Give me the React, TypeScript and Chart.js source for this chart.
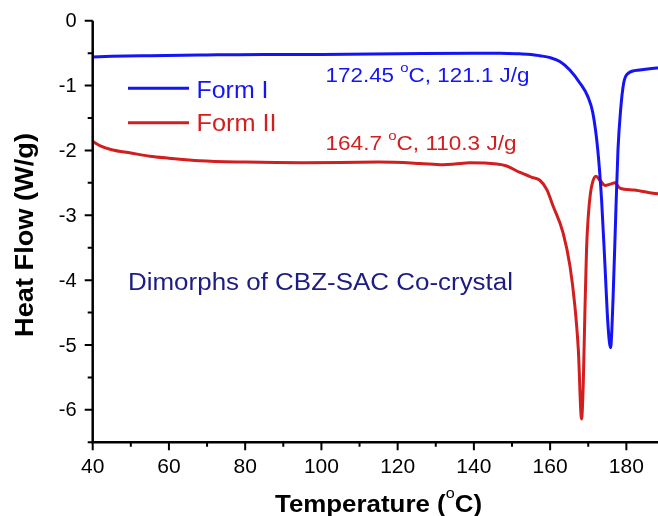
import { useEffect, useRef } from "react";
import { Chart, registerables } from "chart.js";

Chart.register(...registerables);

const FONT = '"Liberation Sans", Arial, Helvetica, sans-serif';

// Form I (blue)
const formITemp = [40, 45, 55, 68, 85, 100, 120, 140, 147, 152, 155, 157.3, 160, 162.55, 165.17, 167.8, 169.9, 171.2, 172.5, 173.5, 174.4, 175.2, 175.85, 176.5, 177.2, 177.8, 178.5, 179.3, 180.5, 183.5, 187.9, 190];
const formIHeat = [-0.56, -0.55, -0.54, -0.53, -0.52, -0.52, -0.51, -0.5, -0.5, -0.51, -0.52, -0.54, -0.57, -0.63, -0.76, -0.96, -1.17, -1.42, -1.99, -2.76, -3.79, -4.71, -5.04, -4.3, -3.02, -1.99, -1.37, -0.96, -0.81, -0.76, -0.73, -0.72];

// Form II (red)
const formIITemp = [40, 42, 45, 50, 55, 60, 68, 80, 95, 115, 125.8, 131.9, 135, 139, 146, 148.6, 152.1, 155.5, 157.3, 159.1, 160.8, 163.4, 165.2, 166.5, 167.4, 168.25, 168.7, 169.1, 169.55, 170.0, 170.6, 171.2, 172.0, 173.2, 174.4, 175.8, 177.0, 178.3, 182, 187.0, 190];
const formIIHeat = [-1.86, -1.93, -1.99, -2.04, -2.09, -2.12, -2.16, -2.18, -2.19, -2.18, -2.2, -2.22, -2.21, -2.19, -2.21, -2.24, -2.34, -2.42, -2.46, -2.6, -2.86, -3.27, -3.78, -4.4, -5.07, -6.14, -5.58, -4.55, -3.53, -3.02, -2.65, -2.48, -2.4, -2.47, -2.54, -2.52, -2.5, -2.58, -2.61, -2.66, -2.68];

const xMajorTicks = [40, 60, 80, 100, 120, 140, 160, 180];
const xMinorTicks = [50, 70, 90, 110, 130, 150, 170];
const yMajorTicks = [0, -1, -2, -3, -4, -5, -6];
const yMinorTicks = [-0.5, -1.5, -2.5, -3.5, -4.5, -5.5, -6.5];

const seriesNames = ["Form I", "Form II"];
const annotationI = ["172.45 ", "o", "C, 121.1 J/g"];
const annotationII = ["164.7 ", "o", "C, 110.3 J/g"];
const noteText = "Dimorphs of CBZ-SAC Co-crystal";
const yTitle = "Heat Flow (W/g)";
const xTitleParts = ["Temperature (", "o", "C)"];

const BLUE = "#1414f5";
const RED = "#d21e1e";
const NAVY = "#1c1c84";

type Run = { text: string; size: number; bold?: boolean; dy?: number };

function drawRuns(ctx: CanvasRenderingContext2D, runs: Run[], x: number, baseline: number, targetWidth: number | null, color: string) {
  ctx.save();
  let total = 0;
  const widths = runs.map((r) => {
    ctx.font = `${r.bold ? "bold " : ""}${r.size}px ${FONT}`;
    const w = ctx.measureText(r.text).width;
    total += w;
    return w;
  });
  const s = targetWidth ? targetWidth / total : 1;
  ctx.translate(x, baseline);
  ctx.scale(s, 1);
  ctx.fillStyle = color;
  ctx.textAlign = "left";
  ctx.textBaseline = "alphabetic";
  let cx = 0;
  runs.forEach((r, i) => {
    ctx.font = `${r.bold ? "bold " : ""}${r.size}px ${FONT}`;
    ctx.fillText(r.text, cx, r.dy || 0);
    cx += widths[i];
  });
  ctx.restore();
}

const overlay = {
  id: "overlay",
  afterDraw(chart: any) {
    const ctx: CanvasRenderingContext2D = chart.ctx;
    const xs = chart.scales.x;
    const ys = chart.scales.y;
    const area = chart.chartArea;
    ctx.save();
    ctx.strokeStyle = "#000";
    ctx.lineCap = "butt";

    // axes lines
    ctx.lineWidth = 2.5;
    ctx.beginPath();
    ctx.moveTo(area.left, ys.getPixelForValue(0));
    ctx.lineTo(area.left, area.bottom);
    ctx.lineTo(area.right, area.bottom);
    ctx.stroke();

    // ticks
    ctx.lineWidth = 2;
    ctx.beginPath();
    yMajorTicks.forEach((v) => {
      const p = ys.getPixelForValue(v);
      ctx.moveTo(area.left, p);
      ctx.lineTo(area.left - 8, p);
    });
    yMinorTicks.forEach((v) => {
      const p = ys.getPixelForValue(v);
      ctx.moveTo(area.left, p);
      ctx.lineTo(area.left - 5, p);
    });
    xMajorTicks.forEach((v) => {
      const p = xs.getPixelForValue(v);
      ctx.moveTo(p, area.bottom);
      ctx.lineTo(p, area.bottom + 8);
    });
    xMinorTicks.forEach((v) => {
      const p = xs.getPixelForValue(v);
      ctx.moveTo(p, area.bottom);
      ctx.lineTo(p, area.bottom + 4.5);
    });
    ctx.stroke();

    // tick labels
    ctx.fillStyle = "#000";
    ctx.font = `20px ${FONT}`;
    ctx.textAlign = "right";
    ctx.textBaseline = "middle";
    yMajorTicks.forEach((v) => {
      ctx.fillText(String(v), 76.5, ys.getPixelForValue(v) + 1);
    });
    ctx.font = `21px ${FONT}`;
    ctx.textAlign = "center";
    xMajorTicks.forEach((v) => {
      ctx.fillText(String(v), xs.getPixelForValue(v), 467.5);
    });

    // axis titles
    ctx.save();
    ctx.translate(33.3, 235);
    ctx.rotate(-Math.PI / 2);
    drawRuns(ctx, [{ text: yTitle, size: 25, bold: true }], -102, 0, 204, "#000");
    ctx.restore();
    drawRuns(
      ctx,
      [
        { text: xTitleParts[0], size: 24, bold: true },
        { text: xTitleParts[1], size: 15, bold: false, dy: -14 },
        { text: xTitleParts[2], size: 24, bold: true },
      ],
      275,
      511.7,
      207,
      "#000"
    );

    // legend
    ctx.lineWidth = 3;
    ctx.strokeStyle = BLUE;
    ctx.beginPath();
    ctx.moveTo(128, 88.3);
    ctx.lineTo(189, 88.3);
    ctx.stroke();
    ctx.strokeStyle = RED;
    ctx.beginPath();
    ctx.moveTo(128, 122.7);
    ctx.lineTo(189, 122.7);
    ctx.stroke();
    drawRuns(ctx, [{ text: seriesNames[0], size: 24 }], 196.5, 98.3, 72, BLUE);
    drawRuns(ctx, [{ text: seriesNames[1], size: 24 }], 196.5, 130.5, 80, RED);

    // annotations
    drawRuns(
      ctx,
      [
        { text: annotationI[0], size: 19.5 },
        { text: annotationI[1], size: 13, dy: -10.5 },
        { text: annotationI[2], size: 19.5 },
      ],
      325.5,
      82.3,
      204,
      BLUE
    );
    drawRuns(
      ctx,
      [
        { text: annotationII[0], size: 19.5 },
        { text: annotationII[1], size: 13, dy: -10.5 },
        { text: annotationII[2], size: 19.5 },
      ],
      325.5,
      150,
      191,
      RED
    );
    drawRuns(ctx, [{ text: noteText, size: 23 }], 128, 290, 385, NAVY);

    ctx.restore();
  },
};

export default function App() {
  const ref = useRef<HTMLCanvasElement>(null);
  useEffect(() => {
    const canvas = ref.current;
    if (!canvas) return;
    const chart = new Chart(canvas, {
      type: "line",
      data: {
        datasets: [
          {
            label: seriesNames[0],
            data: formITemp.map((x, i) => ({ x, y: formIHeat[i] })),
            borderColor: BLUE,
            borderWidth: 3,
            pointRadius: 0,
            cubicInterpolationMode: "monotone",
            fill: false,
          },
          {
            label: seriesNames[1],
            data: formIITemp.map((x, i) => ({ x, y: formIIHeat[i] })),
            borderColor: RED,
            borderWidth: 3,
            pointRadius: 0,
            cubicInterpolationMode: "monotone",
            fill: false,
          },
        ],
      },
      options: {
        responsive: false,
        animation: false,
        devicePixelRatio: 1,
        layout: { padding: { left: 92.7, top: 20.7, right: 0, bottom: 73.7 } },
        plugins: { legend: { display: false }, tooltip: { enabled: false } },
        scales: {
          x: { type: "linear", min: 40, max: 188.3, display: false },
          y: { type: "linear", min: -6.5, max: 0, display: false },
        },
      },
      plugins: [overlay],
    } as any);
    return () => chart.destroy();
  }, []);
  return (
    <div style={{ position: "absolute", left: 0, top: 0, width: 658, height: 516, background: "#fff" }}>
      <canvas ref={ref} width={658} height={516} style={{ display: "block" }} />
    </div>
  );
}
